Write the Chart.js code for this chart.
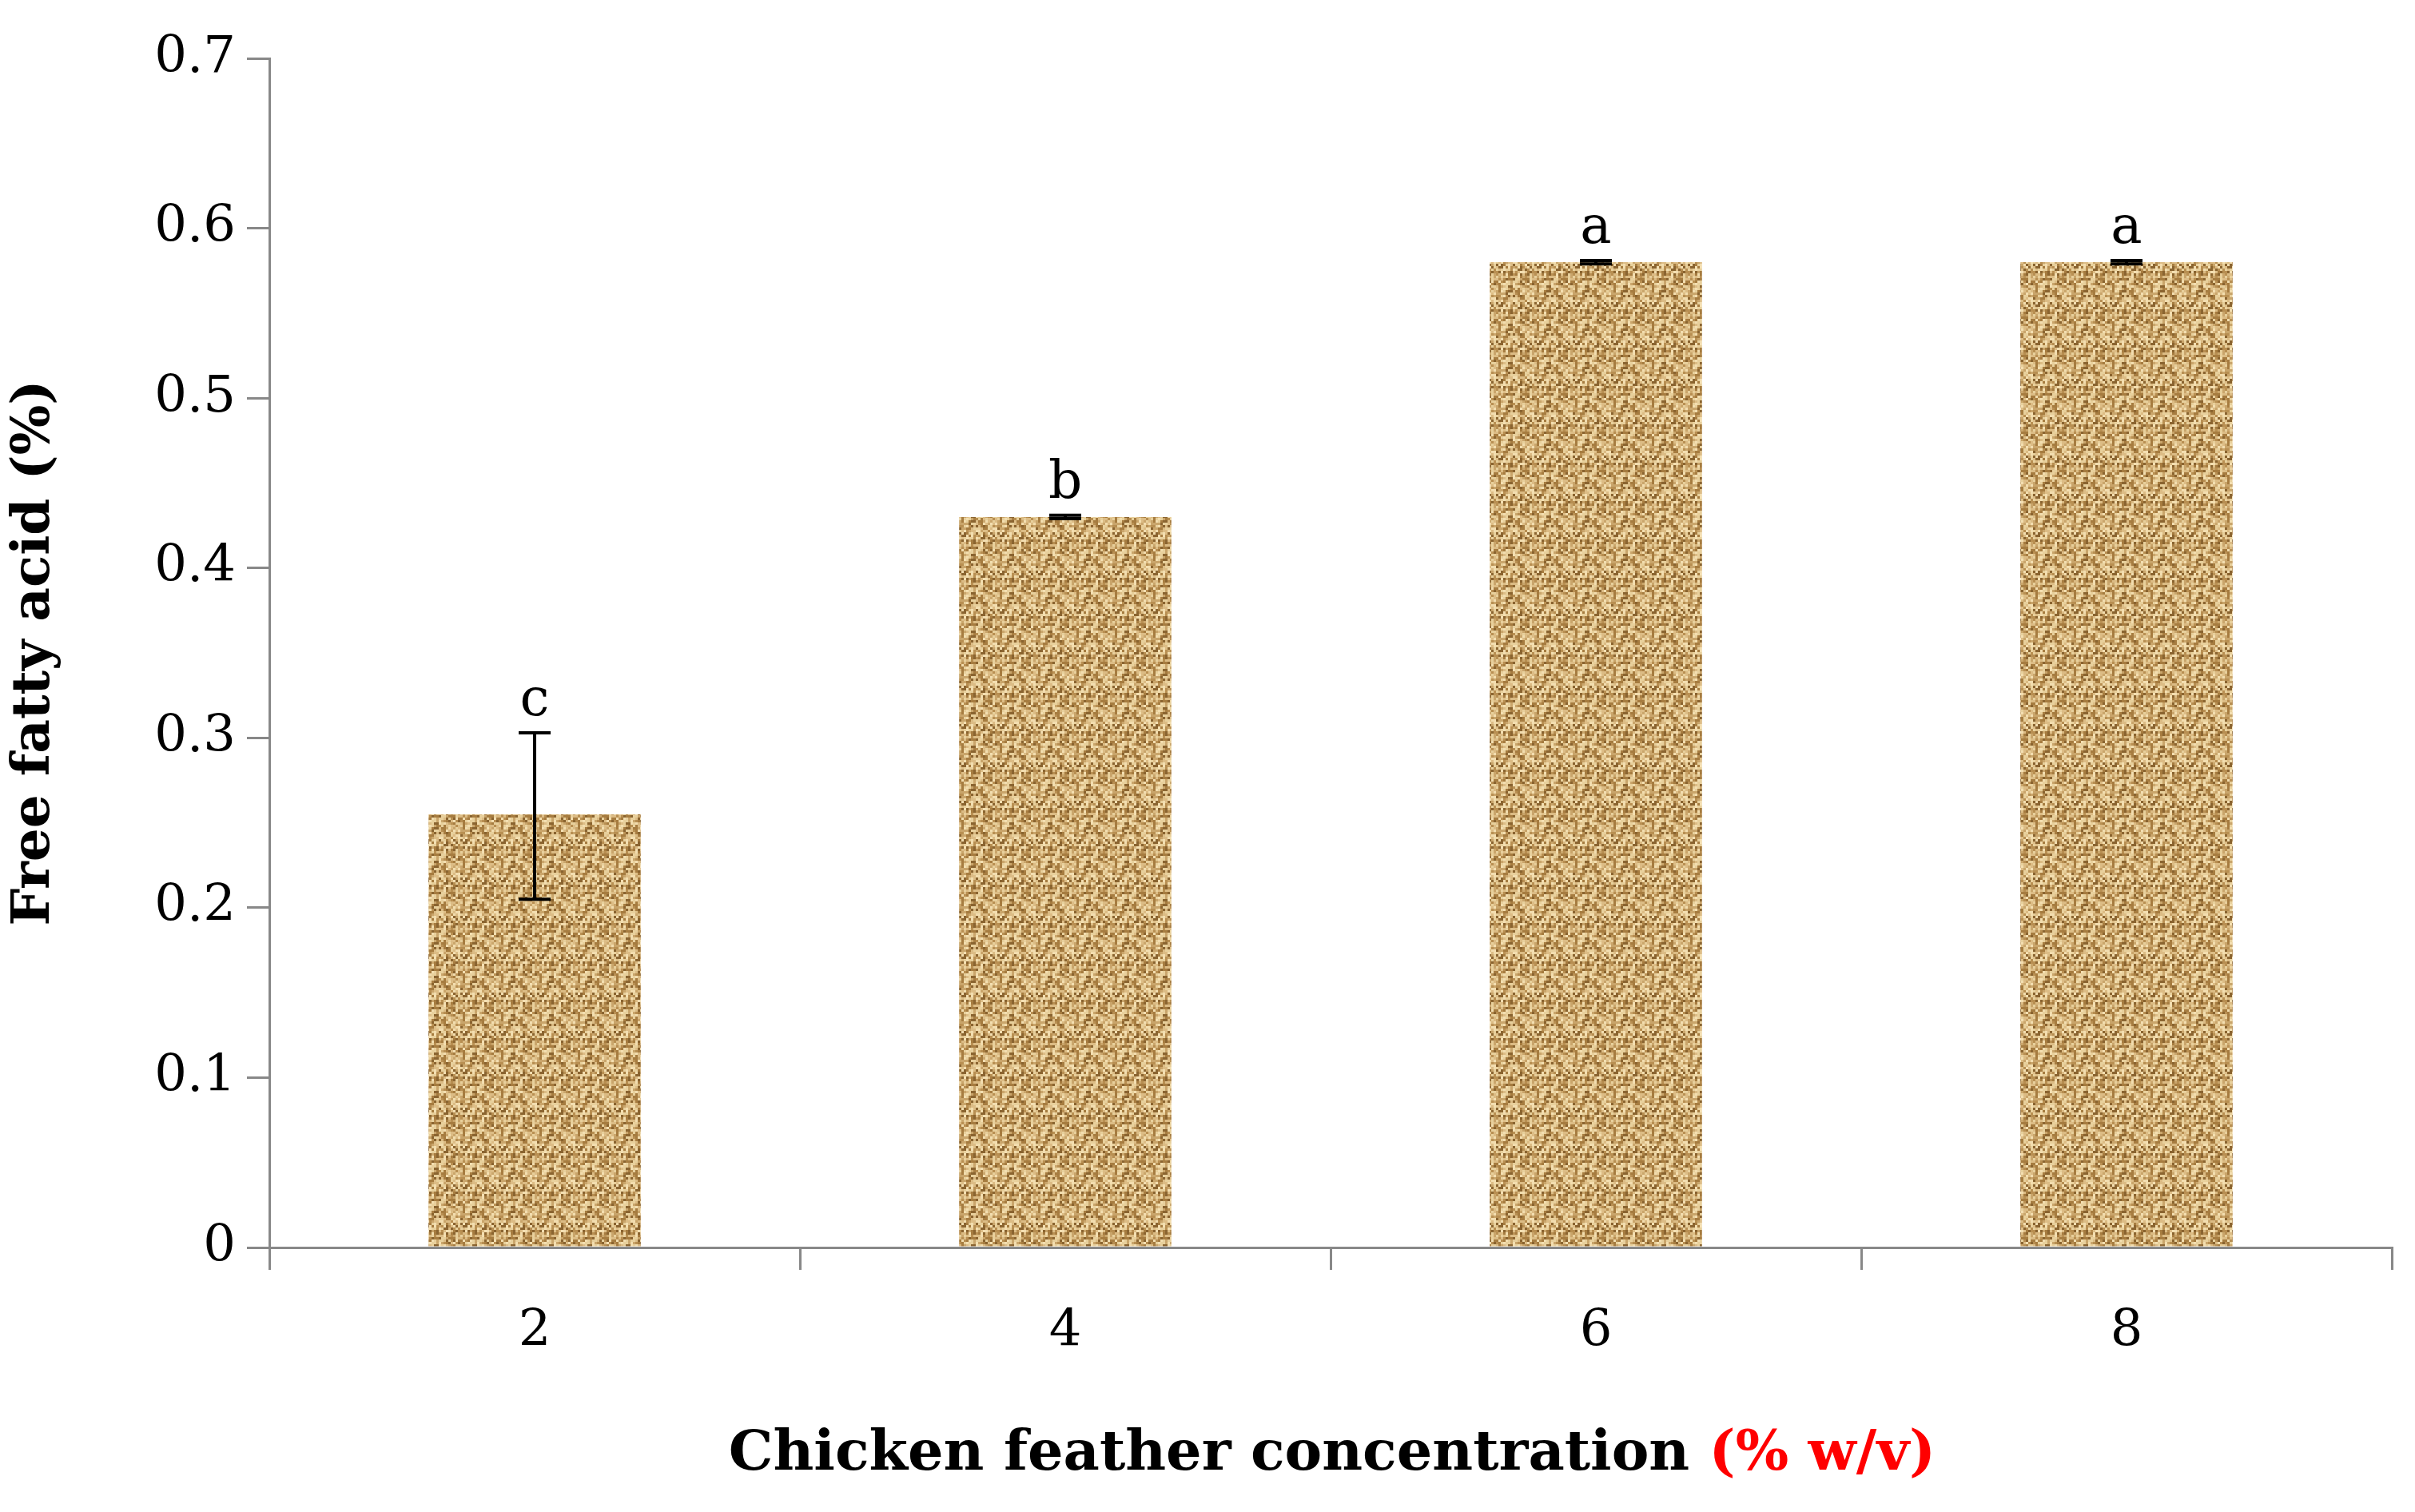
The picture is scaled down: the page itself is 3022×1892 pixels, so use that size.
<!DOCTYPE html>
<html><head><meta charset="utf-8">
<script src="https://cdn.jsdelivr.net/npm/chart.js@4"></script>
<style>html,body{margin:0;padding:0;background:#fff}#c{display:block}</style>
</head><body>
<canvas id="c" width="3022" height="1892"></canvas>
<script>
const categories = ['2','4','6','8'];
const values = [0.255, 0.43, 0.58, 0.58];
const errLow = [0.205, 0.429, 0.579, 0.579];
const errHigh = [0.303, 0.431, 0.581, 0.581];
const letters = ['c','b','a','a'];
const yTicks = [0,0.1,0.2,0.3,0.4,0.5,0.6,0.7];

// burlap-like texture
function makePattern(){
  const p=document.createElement('canvas');p.width=48;p.height=48;
  const g=p.getContext('2d');
  let s=12345;function r(){s=(s*1103515245+12345)&0x7fffffff;return s/0x7fffffff;}
  const cols=['#c9a56b','#b88f52','#dcbc85','#a67c40','#e8d09c','#8a6430','#f3deb0'];
  for(let y=0;y<48;y+=3)for(let x=0;x<48;x+=3){
    const w=((x/3+y/3)%4<2);
    g.fillStyle=cols[Math.floor(r()*cols.length)];
    g.fillRect(x,y,w?6:3,w?3:6);
  }
  return g.createPattern(p,'repeat');
}
const ctx=document.getElementById('c').getContext('2d');
const pat=makePattern();
const serif='"DejaVu Serif","Liberation Serif",serif';

const overlay={id:'overlay',afterDatasetsDraw(chart){
  const c=chart.ctx,x=chart.scales.x,y=chart.scales.y;
  c.save();c.strokeStyle='#000';c.lineWidth=4;
  categories.forEach((k,i)=>{
    const px=x.getPixelForValue(i),hi=y.getPixelForValue(errHigh[i]),lo=y.getPixelForValue(errLow[i]);
    c.beginPath();c.moveTo(px,hi);c.lineTo(px,lo);
    c.moveTo(px-20,hi);c.lineTo(px+20,hi);c.moveTo(px-20,lo);c.lineTo(px+20,lo);c.stroke();
    c.fillStyle='#000';c.font='66px '+serif;c.textAlign='center';c.textBaseline='bottom';
    c.fillText(letters[i],px,hi-6);
  });
  // x title with red part
  c.font='bold 70px '+serif;c.textBaseline='middle';c.textAlign='left';
  const t1='Chicken feather concentration ',t2='(% w/v)';
  const w1=c.measureText(t1).width,w2=c.measureText(t2).width;
  let sx=1667-(w1+w2)/2;
  c.fillStyle='#000';c.fillText(t1,sx,1821);
  c.fillStyle='#ff0000';c.fillText(t2,sx+w1,1821);
  c.restore();
}};

new Chart(ctx,{type:'bar',
  data:{labels:categories,datasets:[{data:values,backgroundColor:pat,barPercentage:0.4,categoryPercentage:1}]},
  options:{responsive:false,animation:false,devicePixelRatio:1,
    layout:{padding:{left:0,right:29,top:73,bottom:0}},
    plugins:{legend:{display:false},tooltip:{enabled:false}},
    scales:{
      x:{offset:true,grid:{offset:true,drawOnChartArea:false,tickLength:28,color:'#888',lineWidth:3},
         border:{color:'#888',width:3},
         ticks:{color:'#000',font:{family:serif,size:64},padding:40},
         afterFit(s){s.height=1892-1561;}},
      y:{min:0,max:0.7,afterBuildTicks(s){s.ticks=yTicks.map(v=>({value:v}));},
         grid:{drawOnChartArea:false,tickLength:28,color:'#888',lineWidth:3},
         border:{color:'#888',width:3},
         ticks:{color:'#000',font:{family:serif,size:64},padding:14,callback:v=>String(v)},
         title:{display:true,text:'Free fatty acid (%)',color:'#000',font:{family:serif,size:66,weight:'bold'},padding:{bottom:10}},
         afterFit(s){s.width=337;}}
    }},
  plugins:[overlay]});
</script>
</body></html>
